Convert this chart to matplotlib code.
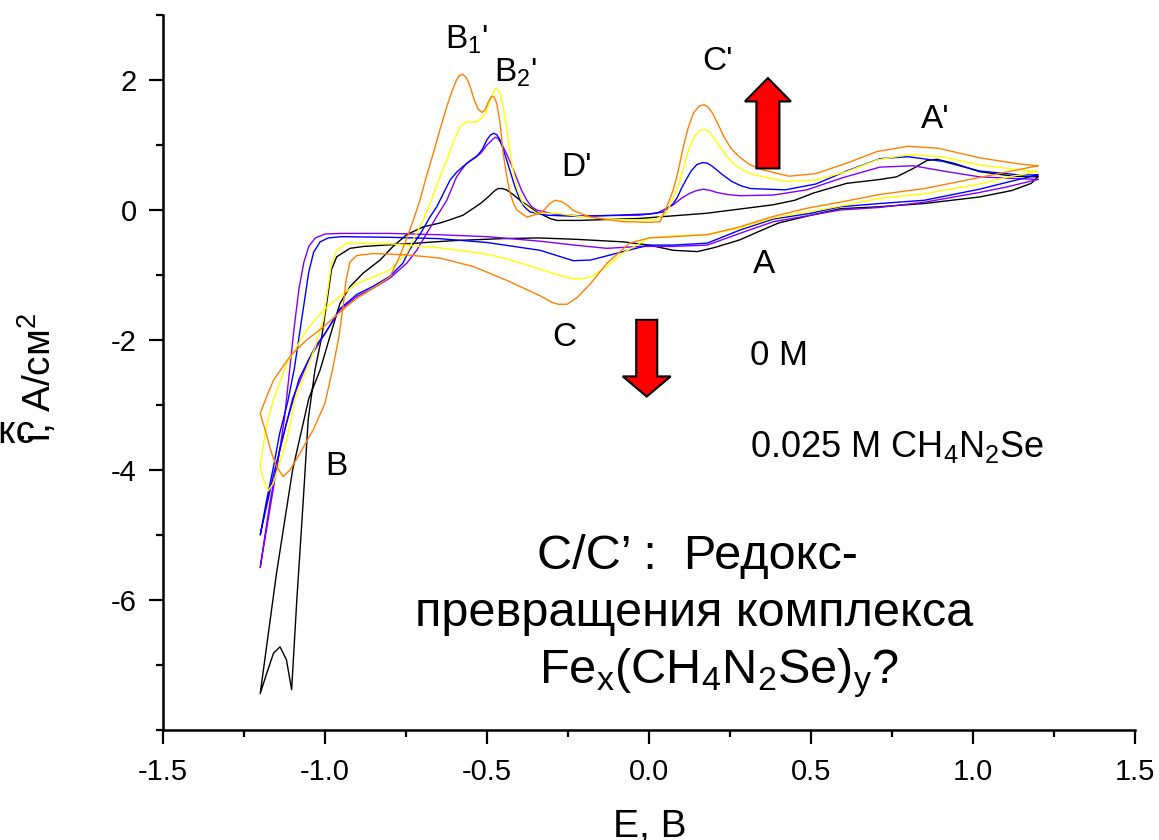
import matplotlib.pyplot as plt
from matplotlib.patches import FancyArrow
from matplotlib.ticker import MultipleLocator

plt.rcParams['font.family'] = ['Liberation Sans', 'DejaVu Sans']
plt.rcParams['mathtext.fontset'] = 'custom'
plt.rcParams['mathtext.rm'] = 'Liberation Sans'
plt.rcParams['mathtext.it'] = 'Liberation Sans:italic'
plt.rcParams['mathtext.default'] = 'regular'

# Cyclic voltammograms: cathodic sweep 1.2 -> -1.2 V, then anodic back to 1.2 V
e_black = [1.2, 1.18, 1.12, 1.02, 0.85, 0.71, 0.59, 0.5, 0.4, 0.33, 0.28, 0.2, 0.15, 0.075, 0.0, -0.08,
           -0.23, -0.34, -0.45, -0.6, -0.75, -0.88, -0.923, -0.964, -0.98, -0.995, -1.01, -1.031, -1.052,
           -1.067, -1.087, -1.103, -1.119, -1.139, -1.159, -1.18, -1.2,
           -1.15, -1.1, -1.05, -1.015, -0.985, -0.954, -0.923, -0.882, -0.83, -0.79, -0.748, -0.697, -0.645,
           -0.614, -0.574, -0.52, -0.49, -0.478, -0.466, -0.453, -0.44, -0.42, -0.398, -0.372, -0.347,
           -0.306, -0.285, -0.213, -0.03, 0.178, 0.383, 0.45, 0.507, 0.61, 0.713, 0.764, 0.816, 0.857,
           0.888, 0.94, 1.02, 1.124, 1.2]
i_black = [0.51, 0.41, 0.3, 0.2, 0.1, 0.05, 0.02, -0.08, -0.2, -0.35, -0.46, -0.58, -0.64, -0.62, -0.54, -0.49,
           -0.45, -0.43, -0.44, -0.47, -0.52, -0.56, -0.59, -0.72, -0.92, -1.44, -1.95, -2.46, -3.23,
           -4.46, -6.0, -7.38, -6.92, -6.72, -6.82, -7.13, -7.44,
           -5.6, -4.0, -2.9, -2.46, -1.95, -1.44, -1.18, -0.97, -0.77, -0.56, -0.38, -0.26, -0.2,
           -0.15, -0.08, 0.1, 0.23, 0.29, 0.33, 0.33, 0.31, 0.24, 0.15, 0.06, -0.03,
           -0.13, -0.16, -0.16, -0.13, -0.05, 0.08, 0.15, 0.26, 0.41, 0.47, 0.51, 0.64, 0.76,
           0.78, 0.72, 0.59, 0.52, 0.51]

e_purple = [1.2, 1.1, 1.02, 0.85, 0.713, 0.59, 0.5, 0.384, 0.28, 0.18, 0.075, -0.028, -0.13, -0.23, -0.336,
            -0.5, -0.65, -0.8, -0.95, -1.0, -1.03, -1.05, -1.065, -1.08, -1.095, -1.11, -1.125, -1.14, -1.16,
            -1.18, -1.2,
            -1.17, -1.14, -1.1, -1.05, -1.006, -0.954, -0.902, -0.85, -0.8, -0.748, -0.717, -0.686, -0.655,
            -0.624, -0.594, -0.563, -0.52, -0.5, -0.48, -0.473, -0.466, -0.453, -0.44, -0.425, -0.41, -0.393,
            -0.377, -0.362, -0.347, -0.296, -0.213, -0.03, 0.024, 0.075, 0.1, 0.127, 0.148, 0.168, 0.19,
            0.209, 0.24, 0.28, 0.384, 0.487, 0.6, 0.713, 0.816, 0.919, 1.02, 1.2]
i_purple = [0.47, 0.35, 0.27, 0.12, 0.04, 0.0, -0.08, -0.18, -0.36, -0.54, -0.56, -0.56, -0.59, -0.54, -0.48,
            -0.41, -0.38, -0.36, -0.36, -0.37, -0.43, -0.56, -0.8, -1.2, -1.8, -2.5, -3.2, -3.7, -4.3,
            -4.9, -5.5,
            -4.5, -3.7, -2.9, -2.3, -1.95, -1.54, -1.33, -1.2, -1.05, -0.82, -0.62, -0.36, -0.1,
            0.15, 0.51, 0.72, 0.87, 1.0, 1.1, 1.12, 1.1, 1.0, 0.87, 0.7, 0.51, 0.3,
            0.15, 0.05, 0.0, -0.06, -0.09, -0.08, -0.05, 0.08, 0.18, 0.26, 0.3, 0.32, 0.3,
            0.27, 0.24, 0.22, 0.23, 0.31, 0.5, 0.66, 0.68, 0.59, 0.51, 0.47]

e_blue = [1.2, 1.1, 1.02, 0.85, 0.713, 0.59, 0.5, 0.383, 0.28, 0.18, 0.075, 0.0, -0.08, -0.18, -0.234,
          -0.336, -0.5, -0.65, -0.8, -0.95, -0.99, -1.015, -1.035, -1.05, -1.065, -1.08, -1.095, -1.115,
          -1.14, -1.159, -1.18, -1.2,
          -1.16, -1.12, -1.08, -1.03, -1.0, -0.954, -0.902, -0.85, -0.8, -0.76, -0.74, -0.705, -0.675,
          -0.655, -0.614, -0.594, -0.574, -0.553, -0.532, -0.515, -0.5, -0.49, -0.48, -0.47, -0.46, -0.445,
          -0.43, -0.414, -0.398, -0.383, -0.367, -0.316, -0.213, -0.1, 0.0, 0.044, 0.075, 0.088, 0.1,
          0.115, 0.13, 0.148, 0.166, 0.18, 0.196, 0.225, 0.255, 0.285, 0.314, 0.42, 0.515, 0.61, 0.713,
          0.799, 0.905, 1.02, 1.142, 1.2]
i_blue = [0.54, 0.42, 0.32, 0.15, 0.1, 0.05, -0.05, -0.14, -0.31, -0.51, -0.54, -0.54, -0.64, -0.77, -0.78,
          -0.62, -0.5, -0.44, -0.42, -0.41, -0.43, -0.49, -0.65, -0.95, -1.45, -1.95, -2.45, -2.95,
          -3.44, -3.95, -4.46, -5.0,
          -4.1, -3.3, -2.6, -2.1, -1.9, -1.52, -1.3, -1.17, -1.02, -0.82, -0.62, -0.36, -0.1,
          0.05, 0.46, 0.58, 0.67, 0.75, 0.82, 0.93, 1.08, 1.15, 1.18, 1.16, 1.08, 0.86,
          0.62, 0.36, 0.15, 0.04, -0.03, -0.08, -0.1, -0.08, -0.06, -0.03, 0.1, 0.2, 0.33,
          0.47, 0.6, 0.7, 0.73, 0.72, 0.67, 0.55, 0.44, 0.37, 0.33, 0.31, 0.4, 0.6, 0.79,
          0.82, 0.75, 0.6, 0.54, 0.54]

e_yellow = [1.2, 1.1, 1.02, 0.85, 0.713, 0.59, 0.5, 0.383, 0.28, 0.18, 0.075, 0.0, -0.08, -0.13, -0.18,
            -0.21, -0.234, -0.28, -0.336, -0.44, -0.5, -0.65, -0.8, -0.933, -0.964, -0.98, -0.99, -1.005,
            -1.03, -1.06, -1.093, -1.118, -1.144, -1.159, -1.175, -1.19, -1.2,
            -1.185, -1.175, -1.159, -1.118, -1.057, -1.005, -0.954, -0.902, -0.85, -0.8, -0.748, -0.728,
            -0.697, -0.676, -0.65, -0.624, -0.603, -0.583, -0.563, -0.548, -0.532, -0.515, -0.5, -0.487,
            -0.475, -0.467, -0.46, -0.45, -0.44, -0.43, -0.42, -0.405, -0.389, -0.347, -0.285, -0.213,
            -0.1, 0.018, 0.054, 0.09, 0.108, 0.125, 0.143, 0.16, 0.172, 0.184, 0.2, 0.219, 0.24, 0.267,
            0.295, 0.326, 0.42, 0.515, 0.61, 0.704, 0.799, 0.905, 1.023, 1.142, 1.2]
i_yellow = [0.59, 0.5, 0.4, 0.25, 0.18, 0.06, -0.02, -0.12, -0.28, -0.38, -0.4, -0.43, -0.66, -0.87, -1.03,
            -1.06, -1.06, -1.0, -0.91, -0.75, -0.68, -0.58, -0.52, -0.51, -0.62, -0.82, -1.18, -1.69,
            -2.1, -2.5, -2.92, -3.54, -3.95, -4.2, -4.32, -4.15, -3.95,
            -3.44, -3.2, -2.92, -2.36, -1.85, -1.54, -1.33, -1.13, -1.03, -0.92, -0.67, -0.46,
            -0.15, 0.1, 0.45, 0.77, 1.05, 1.28, 1.36, 1.35, 1.36, 1.42, 1.54, 1.72,
            1.87, 1.86, 1.8, 1.58, 1.28, 0.93, 0.62, 0.3, 0.1, -0.05, -0.05, -0.1,
            -0.15, -0.15, -0.05, 0.36, 0.68, 0.97, 1.15, 1.23, 1.24, 1.21, 1.11, 0.97, 0.82, 0.69,
            0.6, 0.54, 0.44, 0.46, 0.59, 0.77, 0.85, 0.82, 0.69, 0.62, 0.59]

e_orange = [1.2, 1.1, 1.0, 0.85, 0.713, 0.59, 0.49, 0.383, 0.28, 0.18, 0.075, 0.0, -0.06, -0.13, -0.18,
            -0.22, -0.253, -0.28, -0.3, -0.336, -0.44, -0.542, -0.645, -0.748, -0.85, -0.902, -0.923,
            -0.935, -0.943, -0.957, -0.977, -1.0, -1.036, -1.077, -1.108, -1.129, -1.149, -1.165, -1.185,
            -1.2,
            -1.18, -1.159, -1.108, -1.057, -1.005, -0.954, -0.902, -0.85, -0.8, -0.77, -0.745, -0.727,
            -0.707, -0.688, -0.666, -0.645, -0.624, -0.608, -0.594, -0.585, -0.575, -0.563, -0.552, -0.54,
            -0.527, -0.516, -0.506, -0.496, -0.486, -0.478, -0.47, -0.46, -0.45, -0.44, -0.429, -0.418,
            -0.408, -0.377, -0.336, -0.32, -0.306, -0.29, -0.27, -0.254, -0.235, -0.213, -0.18, -0.08,
            0.003, 0.034, 0.055, 0.075, 0.09, 0.105, 0.12, 0.137, 0.155, 0.17, 0.183, 0.196, 0.213, 0.231,
            0.253, 0.278, 0.31, 0.349, 0.432, 0.515, 0.61, 0.704, 0.799, 0.893, 1.023, 1.142, 1.2]
i_orange = [0.68, 0.58, 0.48, 0.33, 0.24, 0.12, 0.03, -0.1, -0.26, -0.38, -0.41, -0.43, -0.51, -0.82, -1.13,
            -1.34, -1.45, -1.45, -1.42, -1.32, -1.08, -0.87, -0.74, -0.69, -0.67, -0.7, -0.8,
            -1.08, -1.44, -1.95, -2.46, -2.97, -3.38, -3.74, -4.0, -4.1, -3.95, -3.74, -3.38,
            -3.13,
            -2.87, -2.62, -2.25, -2.0, -1.8, -1.57, -1.36, -1.2, -1.03, -0.72, -0.4, -0.15,
            0.15, 0.5, 0.87, 1.24, 1.59, 1.83, 2.0, 2.07, 2.09, 2.03, 1.9, 1.7,
            1.55, 1.5, 1.54, 1.66, 1.75, 1.74, 1.64, 1.35, 0.87, 0.55, 0.26, 0.1,
            0.0, -0.11, -0.05, 0.02, 0.1, 0.15, 0.13, 0.08, 0.0, -0.05, -0.11, -0.18,
            -0.19, -0.18, 0.05, 0.31, 0.6, 0.95, 1.25, 1.49, 1.6, 1.62, 1.58, 1.49, 1.32, 1.13,
            0.95, 0.82, 0.7, 0.62, 0.52, 0.56, 0.72, 0.9, 0.98, 0.95, 0.8, 0.71, 0.68]

curves = [(e_black, i_black, 'black'),
          (e_purple, i_purple, '#8000ff'),
          (e_blue, i_blue, '#0000ff'),
          (e_yellow, i_yellow, '#ffff00'),
          (e_orange, i_orange, '#ff8000')]

x_ticks = [-1.5, -1.0, -0.5, 0.0, 0.5, 1.0, 1.5]
y_ticks = [-6, -4, -2, 0, 2]

fig = plt.figure(figsize=(11.59, 8.40), dpi=100)
ax = fig.add_axes([163 / 1159, 110 / 840, 972 / 1159, 715 / 840])

for e, i, c in curves:
    ax.plot(e, i, color=c, lw=1.0, solid_joinstyle='round')

ax.set_xlim(-1.5, 1.5)
ax.set_ylim(-8, 3)
ax.set_xticks(x_ticks)
ax.set_xticklabels(['%.1f' % v for v in x_ticks])
ax.set_yticks(y_ticks)
ax.set_yticklabels(['%d' % v for v in y_ticks])
ax.xaxis.set_minor_locator(MultipleLocator(0.25))
ax.yaxis.set_minor_locator(MultipleLocator(1))
ax.tick_params(which='major', direction='out', length=10, width=1.6, labelsize=21)
ax.tick_params(which='minor', direction='out', length=5, width=1.6)
ax.tick_params(axis='x', which='major', pad=10)
ax.tick_params(axis='y', which='major', pad=9)
for side in ['top', 'right']:
    ax.spines[side].set_visible(False)
for side in ['left', 'bottom']:
    ax.spines[side].set_linewidth(1.8)

# axis titles
fig.text(650 / 1159, 3 / 840, 'E, B', fontsize=28, ha='center', va='baseline')
fig.text(37 / 1159, 1 - 377 / 840, 'i, A/см$^2$', fontsize=28, rotation=90, ha='center', va='center')
fig.text(36 / 1159, 1 - 443 / 840, 'Редокс', fontsize=28, ha='right', va='baseline')

# peak labels
lbl = dict(fontsize=24, va='baseline')
ax.text(-0.63, 2.49, "B$_1$'", **lbl)
ax.text(-0.478, 1.97, "B$_2$'", **lbl)
ax.text(0.165, 2.15, "C'", **lbl)
ax.text(-0.272, 0.52, "D'", **lbl)
ax.text(0.84, 1.26, "A'", **lbl)
ax.text(0.32, -0.97, 'A', **lbl)
ax.text(-0.3, -2.1, 'C', **lbl)
ax.text(-1.0, -4.08, 'B', **lbl)

ax.text(0.312, -2.38, '0 M', fontsize=25, va='baseline')
ax.text(0.312, -3.8, '0.025 M CH$_4$N$_2$Se', fontsize=26, va='baseline')

ax.text(0.148, -5.52, 'C/C’ :  Редокс-', fontsize=35, ha='center', va='baseline')
ax.text(0.138, -6.4, 'превращения комплекса', fontsize=35, ha='center', va='baseline')
ax.text(0.217, -7.28, 'Fe$_x$(CH$_4$N$_2$Se)$_y$?', fontsize=35, ha='center', va='baseline')

# growth direction arrows
ax.add_patch(FancyArrow(0.367, 0.64, 0, 1.39, width=0.071, head_width=0.142, head_length=0.36,
                        length_includes_head=True, fc='red', ec='black', lw=1.5, zorder=5))
ax.add_patch(FancyArrow(-0.007, -1.69, 0, -1.18, width=0.065, head_width=0.148, head_length=0.31,
                        length_includes_head=True, fc='red', ec='black', lw=1.5, zorder=5))

fig.savefig('out.png', dpi=100)
